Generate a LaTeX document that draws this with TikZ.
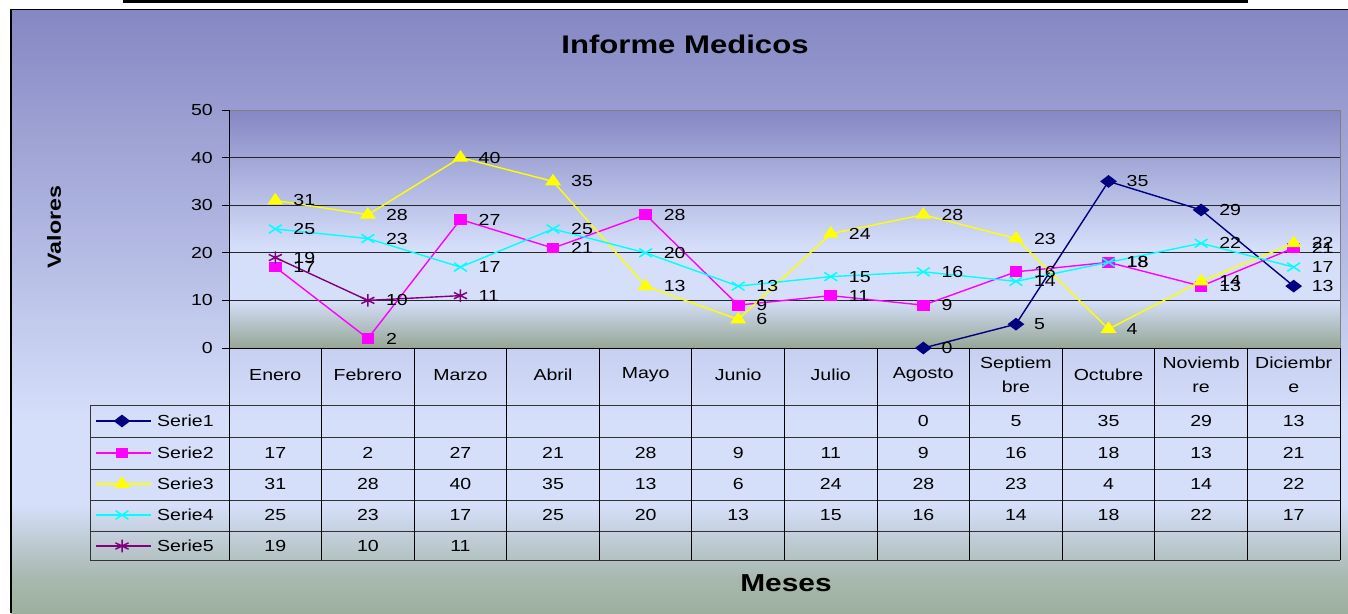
\documentclass[tikz,border=0pt]{standalone}
\usepackage{fontspec}
\setmainfont{Liberation Sans}[FakeStretch=1.22]
\usetikzlibrary{plotmarks}

\definecolor{bgtop}{HTML}{8587C3}
\definecolor{bglight}{HTML}{D5DFFA}
\definecolor{bggreen}{HTML}{9DAF9D}
\definecolor{navy}{HTML}{000080}
\definecolor{purp}{HTML}{800080}
\definecolor{magen}{HTML}{FF00FF}
\definecolor{yell}{HTML}{FFFF00}
\definecolor{cyn}{HTML}{00FFFF}

\pgfdeclareverticalshading{outerbg}{100bp}{color(0bp)=(bggreen); color(25bp)=(bggreen); color(28bp)=(bggreen!80!bglight); color(34bp)=(bglight); color(41bp)=(bglight); color(75bp)=(bgtop); color(100bp)=(bgtop)}
\pgfdeclareverticalshading{plotbg}{100bp}{color(0bp)=(bggreen); color(25bp)=(bggreen!95!black); color(35bp)=(bglight); color(46bp)=(bglight); color(75bp)=(bgtop); color(100bp)=(bgtop)}

\tikzset{
  x=1pt, y=-1pt,
  every node/.style={font=\fontsize{16}{19}\selectfont, inner sep=0pt},
  dlbl/.style={anchor=west, xshift=18pt}, % data labels right of the points
  gridline/.style={draw=black!85, line width=0.9pt},
  tabline/.style={draw=black!80, line width=1pt},
  serie1/.style={color=navy, line width=1.4pt, mark=diamond*, mark size=5.5pt, mark options={xscale=1.75}},
  serie2/.style={color=magen, line width=1.4pt, mark=square*, mark size=4.7pt, mark options={xscale=1.2}},
  serie3/.style={color=yell, line width=1.4pt, mark=triangle*, mark size=6.4pt, mark options={xscale=1.2}},
  serie4/.style={color=cyn, line width=1.4pt, mark=x, mark size=6pt, mark options={xscale=1.5, line width=1.5pt}},
  serie5/.style={color=purp, line width=1.4pt, mark=asterisk, mark size=6.3pt, mark options={xscale=1.2, line width=1.5pt}},
}

\begin{document}
\begin{tikzpicture}
  \useasboundingbox (0,0) rectangle (1348,613);
  % background and frame
  \shade[shading=outerbg] (11,9.5) rectangle (1348,613);
  \draw[line width=1.5pt] (11,613) -- (11,9.5) -- (1348,9.5);
  \draw[line width=3pt] (123,1.5) -- (1248,1.5);

  % plot area
  \shade[shading=plotbg] (229,110) rectangle (1340,348);
  \foreach \v in {10,20,30,40}
    \draw[gridline] (229,{348-4.76*\v}) -- (1340,{348-4.76*\v});
  \draw[draw=gray, line width=1pt] (229,110) -- (1340,110) -- (1340,348);
  \foreach \v in {0,10,...,50} {
    \draw[line width=0.9pt] (222,{348-4.76*\v}) -- (229,{348-4.76*\v});
    \node[anchor=east] (yl\v) at (213,{348-4.76*\v}) {\v};
  }

  % titles
  \node[font=\fontsize{25.5}{30}\selectfont\bfseries] (title) at (685,44) {Informe Medicos};
  \node[font=\fontsize{19}{22}\selectfont\bfseries, rotate=90] (ytitle) at (54,227) {Valores};
  \node[font=\fontsize{24.5}{28}\selectfont\bfseries] (xtitle) at (786,583) {Meses};

  % data table
  \foreach \yy in {405,437,469,500,531,560}
    \draw[tabline] (90,\yy) -- (1340,\yy);
  \draw[tabline] (90,405) -- (90,560);
  \foreach \k in {1,...,11}
    \draw[tabline, draw=black] ({229+92.58*\k},348) -- ({229+92.58*\k},560);
  \draw[line width=1pt] (229,110) -- (229,560);
  \draw[line width=1pt] (229,348) -- (1340,348) -- (1340,560);

  \foreach \name [count=\k] in {Enero,Febrero,Marzo,Abril,Mayo,Junio,Julio,Agosto,{Septiem\\bre},Octubre,{Noviemb\\re},{Diciembr\\e}}
    \node[align=center, font=\fontsize{16}{24}\selectfont] (mes\k) at ({229+92.58*(\k-0.5)},375) {\name};

  \foreach \k/\v in {8/0,9/5,10/35,11/29,12/13}
    \node (ta\k) at ({229+92.58*(\k-0.5)},421) {\v};
  \foreach \v [count=\k] in {17,2,27,21,28,9,11,9,16,18,13,21}
    \node (tb\k) at ({229+92.58*(\k-0.5)},453) {\v};
  \foreach \v [count=\k] in {31,28,40,35,13,6,24,28,23,4,14,22}
    \node (tc\k) at ({229+92.58*(\k-0.5)},484) {\v};
  \foreach \v [count=\k] in {25,23,17,25,20,13,15,16,14,18,22,17}
    \node (td\k) at ({229+92.58*(\k-0.5)},515) {\v};
  \foreach \v [count=\k] in {19,10,11}
    \node (te\k) at ({229+92.58*(\k-0.5)},546) {\v};

  % legend keys
  \foreach \s/\yy in {1/421,2/453,3/484,4/515,5/546} {
    \draw[serie\s, mark indices={2}] plot coordinates {(96,\yy) (122,\yy) (151,\yy)};
    \node[anchor=west] (leg\s) at (157,\yy) {Serie\s};
  }

  % series (month, value)
  \begin{scope}[shift={(182.71,348)}, x=92.58pt, y=4.76pt]
    \draw[serie1] plot coordinates {(8,0) (9,5) (10,35) (11,29) (12,13)};
    \draw[serie2] plot coordinates {(1,17) (2,2) (3,27) (4,21) (5,28) (6,9) (7,11) (8,9) (9,16) (10,18) (11,13) (12,21)};
    \draw[serie3] plot coordinates {(1,31) (2,28) (3,40) (4,35) (5,13) (6,6) (7,24) (8,28) (9,23) (10,4) (11,14) (12,22)};
    \draw[serie4] plot coordinates {(1,25) (2,23) (3,17) (4,25) (5,20) (6,13) (7,15) (8,16) (9,14) (10,18) (11,22) (12,17)};
    \draw[serie5] plot coordinates {(1,19) (2,10) (3,11)};

    \foreach \k/\v in {8/0,9/5,10/35,11/29,12/13}
      \node[dlbl] (pa\k) at (\k,\v) {\v};
    \foreach \v [count=\k] in {17,2,27,21,28,9,11,9,16,18,13,21}
      \node[dlbl] (pb\k) at (\k,\v) {\v};
    \foreach \v [count=\k] in {31,28,40,35,13,6,24,28,23,4,14,22}
      \node[dlbl] (pc\k) at (\k,\v) {\v};
    \foreach \v [count=\k] in {25,23,17,25,20,13,15,16,14,18,22,17}
      \node[dlbl] (pd\k) at (\k,\v) {\v};
    \foreach \v [count=\k] in {19,10,11}
      \node[dlbl] (pe\k) at (\k,\v) {\v};
  \end{scope}
\end{tikzpicture}
\end{document}
